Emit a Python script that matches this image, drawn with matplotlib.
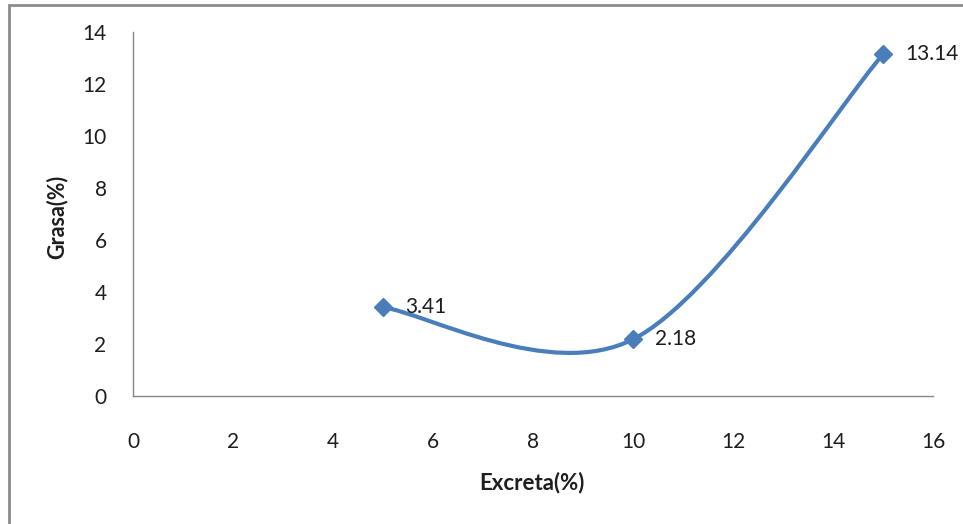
import matplotlib.pyplot as plt
from matplotlib.path import Path
from matplotlib.patches import PathPatch, Rectangle

plt.rcParams['font.family'] = ['Lato', 'DejaVu Sans']

# data
excreta = [5, 10, 15]
grasa = [3.41, 2.18, 13.14]
labels = ['3.41', '2.18', '13.14']
x_ticks = [0, 2, 4, 6, 8, 10, 12, 14, 16]
y_ticks = [0, 2, 4, 6, 8, 10, 12, 14]

blue = '#4A7EBB'
axis_gray = '#868686'
txt = '#1e1e1e'

fig = plt.figure(figsize=(9.63, 5.24), dpi=100)
ax = fig.add_axes([133 / 963, 1 - 396 / 524, 800 / 963, 364 / 524])

# smoothed line (Excel-style Catmull-Rom bezier)
pts = list(zip(excreta, grasa))
verts = [pts[0]]
codes = [Path.MOVETO]
n = len(pts)
for i in range(n - 1):
    p0 = pts[i - 1] if i > 0 else pts[i]
    p1 = pts[i]
    p2 = pts[i + 1]
    p3 = pts[i + 2] if i + 2 < n else pts[i + 1]
    c1 = (p1[0] + (p2[0] - p0[0]) / 6, p1[1] + (p2[1] - p0[1]) / 6)
    c2 = (p2[0] - (p3[0] - p1[0]) / 6, p2[1] - (p3[1] - p1[1]) / 6)
    verts += [c1, c2, p2]
    codes += [Path.CURVE4] * 3
ax.add_patch(PathPatch(Path(verts, codes), facecolor='none', edgecolor=blue,
                       lw=3, capstyle='round', zorder=2))
ax.plot(excreta, grasa, linestyle='none', marker='D', markersize=9,
        color=blue, zorder=3)

for x, y, t in zip(excreta, grasa, labels):
    ax.annotate(t, (x, y), xytext=(16, 0), textcoords='offset points',
                va='center', ha='left', fontsize=15, color=txt, zorder=4)

ax.set_xlim(0, 16)
ax.set_ylim(0, 14)
ax.set_xticks(x_ticks)
ax.set_yticks(y_ticks)
ax.tick_params(length=0, labelsize=15, labelcolor=txt)
ax.tick_params(axis='x', pad=26)
ax.tick_params(axis='y', pad=19)
for s in ['top', 'right']:
    ax.spines[s].set_visible(False)
for s in ['left', 'bottom']:
    ax.spines[s].set_color(axis_gray)
    ax.spines[s].set_linewidth(1)

fig.text(57 / 963, 1 - 217 / 524, 'Grasa(%)', rotation=90, ha='center',
         va='center', fontsize=15.5, fontweight='bold', color=txt)
fig.text(532 / 963, 1 - 483 / 524, 'Excreta(%)', ha='center', va='center',
         fontsize=16, fontweight='bold', color=txt)

# outer chart border
fig.patches.append(Rectangle((9 / 963, -0.1), 1.1, 1 - 5 / 524 + 0.1,
                             transform=fig.transFigure, fill=False,
                             edgecolor='#8c8c8c', lw=2))

fig.savefig('out.png', dpi=100)
